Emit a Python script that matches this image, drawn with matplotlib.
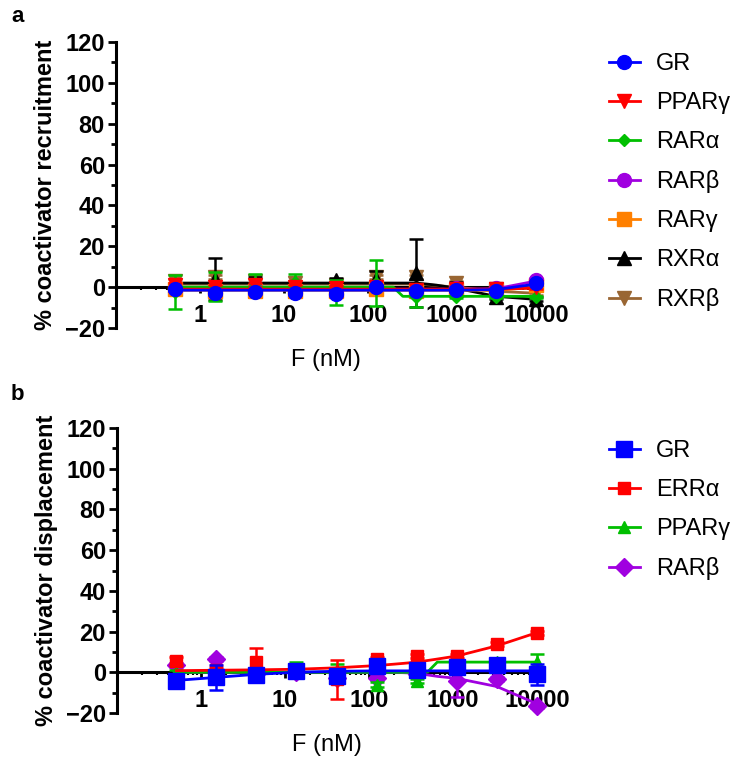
import numpy as np
import matplotlib
matplotlib.use("Agg")
import matplotlib.pyplot as plt
from matplotlib.ticker import LogLocator, FixedLocator, NullFormatter, FixedFormatter
from matplotlib.lines import Line2D

plt.rcParams['font.family'] = ['Liberation Sans', 'DejaVu Sans']

# ---------------- data ----------------
conc = [0.508, 1.52, 4.57, 13.7, 41.2, 123, 370, 1111, 3333, 10000]
fit_x = [0.508, 1.52, 4.57, 13.7, 41.2, 123, 200, 260, 370, 500, 650, 1111, 3333, 10000]

xticks = [1, 10, 100, 1000, 10000]
xtick_labels = ["1", "10", "100", "1000", "10000"]
yticks = [-20, 0, 20, 40, 60, 80, 100, 120]

# panel a: coactivator recruitment
a_labels = ["GR", "PPARγ", "RARα", "RARβ", "RARγ", "RXRα", "RXRβ"]
a_mean = {
    "GR":    [-1, -3, -2.5, -3, -3.5, 0, -2, -1.5, -2, 2],
    "PPARγ": [1, 0, 1, 0, -0.5, 0, -1.5, -1, -1, 0],
    "RARα":  [-2.5, 0.3, 2, 2.5, -2.5, 2, -5, -5, -5, -5],
    "RARβ":  [-1, -1, -1, -1, -1, 0, -1.5, -0.5, -0.5, 3.5],
    "RARγ":  [-1, -2, -2, -2, -2, -1, -2, -1.5, -1.5, 1],
    "RXRα":  [1, 4, 0, 1, 3.5, 4, 7, -1, -5, -6],
    "RXRβ":  [3, 5, 3, 2, 1, 5, 5, 2, -1, -3],
}
a_err = {
    "GR":    [1, 1, 1, 1, 1, 1, 1, 1, 1, 1],
    "PPARγ": [1, 1, 1, 1, 1, 1, 1, 1, 1, 1],
    "RARα":  [8.3, 7, 4.5, 4, 6, 11.3, 4.5, 0.5, 0.5, 0.5],
    "RARβ":  [1, 1, 1, 1, 1, 1, 1, 1, 1, 1],
    "RARγ":  [1, 1, 1, 1, 1, 1, 1, 1, 1, 1],
    "RXRα":  [1, 10.5, 5, 1, 1, 4, 16.5, 3.5, 1, 1],
    "RXRβ":  [1, 1, 1, 1, 1, 1, 1, 1, 1, 1],
}
a_fit = {
    "GR":    [-1.5, -1.5, -1.5, -1.5, -1.5, -1.5, -1.5, -1.5, -1.5, -1.5, -1.5, -1.5, -1.2, 1.5],
    "PPARγ": [-1, -1, -1, -1, -1, -1, -1, -1, -1, -1, -1, -1, -1, -0.5],
    "RARα":  [0, 0, 0, 0, 0, 0, 0, -4.5, -4.5, -4.5, -4.5, -4.5, -4.5, -4.5],
    "RARβ":  [-1, -1, -1, -1, -1, -1, -1, -1, -1, -1, -1, -1, -0.8, 3],
    "RARγ":  [-1.5, -1.5, -1.5, -1.5, -1.5, -1.5, -1.5, -1.5, -1.5, -1.5, -1.5, -1.5, -1.5, 0],
    "RXRα":  [2, 2, 2, 2, 2, 2, 2, 2, 2, 1.5, 1, -0.5, -4.5, -6],
    "RXRβ":  [1.5, 1.5, 1.5, 1.5, 1.5, 1.5, 1.5, 1.5, 1.5, 1.2, 0.8, 0, -2, -3],
}
a_color = {"GR": "#0000FF", "PPARγ": "#FF0000", "RARα": "#00BF00", "RARβ": "#A000E0",
           "RARγ": "#FF8000", "RXRα": "#000000", "RXRβ": "#996633"}
a_marker = {"GR": ("o", 10), "PPARγ": ("v", 10), "RARα": ("D", 6.5), "RARβ": ("o", 10),
            "RARγ": ("s", 10), "RXRα": ("^", 10), "RXRβ": ("v", 10)}

# panel b: coactivator displacement
b_labels = ["GR", "ERRα", "PPARγ", "RARβ"]
b_mean = {
    "GR":    [-4.4, -2.5, -1.5, 0.5, -2, 3, 1, 2.5, 3.5, -1],
    "ERRα":  [5.5, 1, 5, 1, -3.5, 6.5, 8, 8, 14, 19.5],
    "PPARγ": [0, 0, 0, 2, 1, -6, -4.5, 5, 5, 5],
    "RARβ":  [3.5, 6.5, -1, 0, -3, -3, -1, -4.5, -3.5, -16.5],
}
b_err = {
    "GR":    [1.5, 6, 1.5, 3, 3, 2, 1.5, 1.5, 1.5, 5],
    "ERRα":  [2, 1, 7, 1, 9.5, 1, 1, 1, 1, 1],
    "PPARγ": [1, 1, 1, 3, 3, 1, 1, 1, 1, 4],
    "RARβ":  [1, 1, 1, 1, 1, 1, 1, 7.5, 1, 1],
}
b_fit = {
    "GR":    [-4, -2.5, -1, 0, 0.5, 0.7, 0.7, 0.7, 0.7, 0.7, 0.7, 0.7, 0.7, 0.7],
    "ERRα":  [0.8, 1, 1.2, 1.5, 2.2, 3.3, 4, 4.4, 5, 5.8, 6.5, 8, 13, 19.5],
    "PPARγ": [0, 0, 0, 0, 0, 0, 0, 0, 0, 0.2, 5, 5, 5, 5],
    "RARβ":  [0, 0, 0, 0, 0, 0, 0, -0.2, -0.5, -1.3, -2, -3, -7, -15.5],
}
b_color = {"GR": "#0000FF", "ERRα": "#FF0000", "PPARγ": "#00BF00", "RARβ": "#A000E0"}
b_marker = {"GR": ("s", 11), "ERRα": ("s", 9), "PPARγ": ("^", 9), "RARβ": ("D", 9)}

# ---------------- figure ----------------
fig = plt.figure(figsize=(7.31, 7.63), dpi=100)
W, H = 731, 763

def add_axes_px(left, top, right, bottom):
    return fig.add_axes([left / W, 1 - bottom / H, (right - left) / W, (bottom - top) / H])

ax_a = add_axes_px(116, 42, 536, 328)
ax_b = add_axes_px(117, 428, 537, 713)

FS = 17


def style_axes(ax, ylabel):
    ax.set_xscale("log")
    ax.set_xlim(0.1, 10000)
    ax.set_ylim(-20, 120)
    ax.spines["top"].set_visible(False)
    ax.spines["right"].set_visible(False)
    ax.spines["bottom"].set_position(("data", 0))
    ax.spines["left"].set_linewidth(2.2)
    ax.spines["bottom"].set_linewidth(2.2)
    ax.xaxis.set_major_locator(FixedLocator(xticks))
    ax.xaxis.set_major_formatter(FixedFormatter(xtick_labels))
    ax.xaxis.set_minor_locator(LogLocator(base=10, subs=np.arange(2, 10)))
    ax.xaxis.set_minor_formatter(NullFormatter())
    ax.set_yticks(yticks)
    ax.set_yticks(np.arange(-10, 120, 20), minor=True)
    ax.tick_params(axis="x", which="major", direction="out", length=4, width=2, pad=8,
                   labelsize=FS)
    ax.tick_params(axis="x", which="minor", direction="out", length=2.5, width=1.5)
    ax.tick_params(axis="y", which="major", direction="out", length=6, width=2, pad=2,
                   labelsize=FS)
    ax.tick_params(axis="y", which="minor", direction="out", length=3.5, width=2)
    for lab in ax.get_xticklabels() + ax.get_yticklabels():
        lab.set_fontweight("bold")
    ax.set_ylabel(ylabel, fontsize=FS, fontweight="bold")
    ax.yaxis.set_label_coords(-0.169, 0.5)
    ax.yaxis.label.set_va("center")
    ax.set_xlabel("F (nM)", fontsize=FS)
    ax.xaxis.set_label_coords(0.5, -0.112)
    ax.xaxis.label.set_va("center")


def draw_series(ax, labels, mean, err, fit, color, marker):
    handles = []
    for i, lab in enumerate(reversed(labels)):
        z = 3 + i
        c = color[lab]
        m, ms = marker[lab]
        ax.plot(fit_x, fit[lab], color=c, lw=2, zorder=z, clip_on=False)
        ax.errorbar(conc, mean[lab], yerr=err[lab], fmt="none", ecolor=c, elinewidth=1.8,
                    capsize=5, capthick=1.8, zorder=z, clip_on=False)
        ax.plot(conc, mean[lab], linestyle="none", marker=m, markersize=ms, color=c,
                markeredgecolor=c, zorder=z + 0.5, clip_on=False)
    for lab in labels:
        m, ms = marker[lab]
        handles.append(Line2D([], [], color=color[lab], lw=2, marker=m, markersize=ms,
                              markeredgecolor=color[lab]))
    return handles


style_axes(ax_a, "% coactivator recruitment")
style_axes(ax_b, "% coactivator displacement")

ha = draw_series(ax_a, a_labels, a_mean, a_err, a_fit, a_color, a_marker)
hb = draw_series(ax_b, b_labels, b_mean, b_err, b_fit, b_color, b_marker)

leg_kw = dict(loc="upper left", frameon=False, fontsize=FS, handlelength=1.3,
              handletextpad=0.7, labelspacing=0.72, borderpad=0, borderaxespad=0)
fig.legend(ha, a_labels, bbox_to_anchor=(609 / W, 1 - 53 / H), **leg_kw)
fig.legend(hb, b_labels, bbox_to_anchor=(609 / W, 1 - 440 / H), **leg_kw)

fig.text(11 / W, 1 - 17 / H, "a", fontsize=16, fontweight="bold", va="center", ha="left")
fig.text(11 / W, 1 - 394 / H, "b", fontsize=16, fontweight="bold", va="center", ha="left")

fig.savefig("out.png", dpi=100)
